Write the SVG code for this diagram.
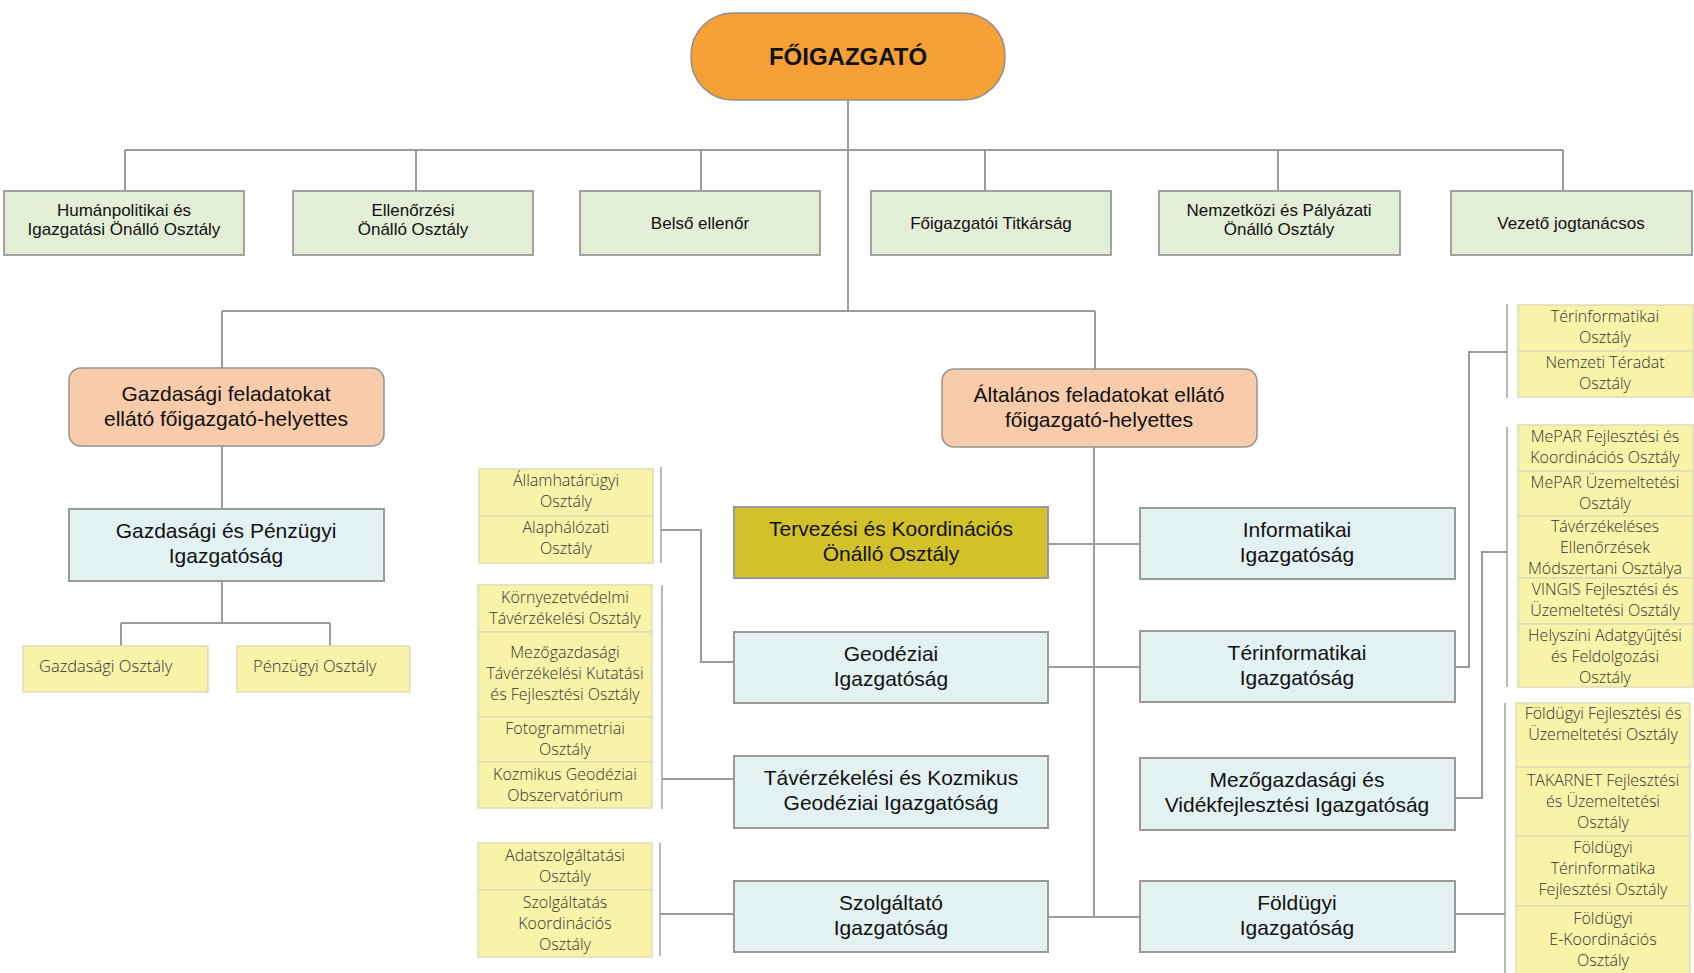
<svg xmlns="http://www.w3.org/2000/svg" width="1694" height="973" viewBox="0 0 1694 973">
<style>
  .ln { fill: none; stroke: #9b9b9b; stroke-width: 2; }
  .br { fill: none; stroke: #a8a8a8; stroke-width: 1.6; }
  .top { fill: #f5a037; stroke: #8e8e8e; stroke-width: 1.5; }
  .grn { fill: #e2eed6; stroke: #9a9a9a; stroke-width: 1.8; }
  .dep { fill: #f8cbaa; stroke: #929292; stroke-width: 1.5; }
  .blu { fill: #e3f1f1; stroke: #9a9a9a; stroke-width: 2; }
  .gld { fill: #d3c12b; stroke: #9a9a9a; stroke-width: 2; }
  .yel { fill: #f9f3a9; stroke: #dedbb8; stroke-width: 1.5; }
  .tt { font-family: "Liberation Sans", Arial, sans-serif; font-weight: bold; font-size: 24px; fill: #111; text-anchor: middle; }
  .t1 { font-family: "Liberation Sans", Arial, sans-serif; font-size: 17px; fill: #111; text-anchor: middle; }
  .t2 { font-family: "Liberation Sans", Arial, sans-serif; font-size: 21px; fill: #111; text-anchor: middle; }
  .ty { font-family: "Open Sans", "Noto Sans", sans-serif; font-size: 16px; font-weight: 300; fill: #333; text-anchor: middle; }
  .tyl { font-family: "Open Sans", "Noto Sans", sans-serif; font-size: 16.5px; font-weight: 300; fill: #333; }
</style>

<!-- connectors -->
<g id="connectors">
  <path class="ln" d="M848,100 V311"/>
  <path class="ln" d="M125,150 H1563"/>
  <path class="ln" d="M125,150 V191 M416,150 V191 M701,150 V191 M985,150 V191 M1278,150 V191 M1563,150 V191"/>
  <path class="ln" d="M222,311 H1095 M222,311 V368 M1095,311 V369"/>
  <path class="ln" d="M222,446 V509 M222,581 V623 M121,623 H330 M121,623 V646 M330,623 V646"/>
  <path class="ln" d="M1094,447 V917"/>
  <path class="ln" d="M1048,544 H1140 M1048,667 H1140 M1048,917 H1140"/>
  <path class="br" d="M661,467 V563 M662,585 V809 M660,843 V956"/>
  <path class="ln" d="M661,530 H701 V662 H734 M662,779 H734 M660,914 H734"/>
  <path class="br" d="M1507,304 V398 M1507,427 V687 M1505,703 V973"/>
  <path class="ln" d="M1455,667 H1469 V352 H1507 M1455,798 H1482 V552 H1507 M1455,914 H1505"/>
</g>

<!-- director -->
<g id="foigazgato">
  <rect class="top" x="691" y="13" width="314" height="87" rx="42" ry="42"/>
  <text class="tt" x="848" y="65">FŐIGAZGATÓ</text>
</g>

<!-- directly reporting units -->
<g id="humanpolitikai">
  <rect class="grn" x="4" y="191" width="240" height="64"/>
  <text class="t1" x="124" y="216">Humánpolitikai és</text>
  <text class="t1" x="124" y="235">Igazgatási Önálló Osztály</text>
</g>
<g id="ellenorzesi">
  <rect class="grn" x="293" y="191" width="240" height="64"/>
  <text class="t1" x="413" y="216">Ellenőrzési</text>
  <text class="t1" x="413" y="235">Önálló Osztály</text>
</g>
<g id="belso-ellenor">
  <rect class="grn" x="580" y="191" width="240" height="64"/>
  <text class="t1" x="700" y="229">Belső ellenőr</text>
</g>
<g id="titkarsag">
  <rect class="grn" x="871" y="191" width="240" height="64"/>
  <text class="t1" x="991" y="229">Főigazgatói Titkárság</text>
</g>
<g id="nemzetkozi">
  <rect class="grn" x="1159" y="191" width="241" height="64"/>
  <text class="t1" x="1279" y="216">Nemzetközi és Pályázati</text>
  <text class="t1" x="1279" y="235">Önálló Osztály</text>
</g>
<g id="jogtanacsos">
  <rect class="grn" x="1451" y="191" width="241" height="64"/>
  <text class="t1" x="1571" y="229">Vezető jogtanácsos</text>
</g>

<!-- deputies -->
<g id="gazdasagi-helyettes">
  <rect class="dep" x="69" y="368" width="315" height="78" rx="12" ry="12"/>
  <text class="t2" x="226" y="401">Gazdasági feladatokat</text>
  <text class="t2" x="226" y="426">ellátó főigazgató-helyettes</text>
</g>
<g id="altalanos-helyettes">
  <rect class="dep" x="942" y="369" width="315" height="78" rx="12" ry="12"/>
  <text class="t2" x="1099" y="402">Általános feladatokat ellátó</text>
  <text class="t2" x="1099" y="427">főigazgató-helyettes</text>
</g>

<!-- economic branch -->
<g id="gazdasagi-penzugyi">
  <rect class="blu" x="69" y="509" width="315" height="72"/>
  <text class="t2" x="226" y="538">Gazdasági és Pénzügyi</text>
  <text class="t2" x="226" y="563">Igazgatóság</text>
</g>
<g id="gazdasagi-osztaly">
  <rect class="yel" x="23" y="646" width="185" height="46"/>
  <text class="tyl" x="39" y="672">Gazdasági Osztály</text>
</g>
<g id="penzugyi-osztaly">
  <rect class="yel" x="237" y="646" width="173" height="46"/>
  <text class="tyl" x="253" y="672">Pénzügyi Osztály</text>
</g>

<!-- middle column -->
<g id="tervezesi">
  <rect class="gld" x="734" y="507" width="314" height="71"/>
  <text class="t2" x="891" y="536">Tervezési és Koordinációs</text>
  <text class="t2" x="891" y="561">Önálló Osztály</text>
</g>
<g id="geodeziai">
  <rect class="blu" x="734" y="632" width="314" height="71"/>
  <text class="t2" x="891" y="661">Geodéziai</text>
  <text class="t2" x="891" y="686">Igazgatóság</text>
</g>
<g id="taverzekelesi">
  <rect class="blu" x="734" y="756" width="314" height="72"/>
  <text class="t2" x="891" y="785">Távérzékelési és Kozmikus</text>
  <text class="t2" x="891" y="810">Geodéziai Igazgatóság</text>
</g>
<g id="szolgaltato">
  <rect class="blu" x="734" y="881" width="314" height="71"/>
  <text class="t2" x="891" y="910">Szolgáltató</text>
  <text class="t2" x="891" y="935">Igazgatóság</text>
</g>

<!-- right column -->
<g id="informatikai">
  <rect class="blu" x="1140" y="508" width="315" height="71"/>
  <text class="t2" x="1297" y="537">Informatikai</text>
  <text class="t2" x="1297" y="562">Igazgatóság</text>
</g>
<g id="terinformatikai">
  <rect class="blu" x="1140" y="631" width="315" height="71"/>
  <text class="t2" x="1297" y="660">Térinformatikai</text>
  <text class="t2" x="1297" y="685">Igazgatóság</text>
</g>
<g id="mezogazdasagi">
  <rect class="blu" x="1140" y="758" width="315" height="72"/>
  <text class="t2" x="1297" y="787">Mezőgazdasági és</text>
  <text class="t2" x="1297" y="812">Vidékfejlesztési Igazgatóság</text>
</g>
<g id="foldugyi">
  <rect class="blu" x="1140" y="881" width="315" height="71"/>
  <text class="t2" x="1297" y="910">Földügyi</text>
  <text class="t2" x="1297" y="935">Igazgatóság</text>
</g>

<!-- departments of the Geodéziai Igazgatóság -->
<g id="geodeziai-osztalyok">
  <rect class="yel" x="479" y="469" width="174" height="47"/>
  <rect class="yel" x="479" y="516" width="174" height="47"/>
  <text class="ty" x="566" y="486">Államhatárügyi</text>
  <text class="ty" x="566" y="507">Osztály</text>
  <text class="ty" x="566" y="533">Alaphálózati</text>
  <text class="ty" x="566" y="554">Osztály</text>
</g>

<!-- departments of the Távérzékelési és Kozmikus Geodéziai Igazgatóság -->
<g id="taverzekelesi-osztalyok">
  <rect class="yel" x="478" y="585" width="174" height="47"/>
  <rect class="yel" x="478" y="632" width="174" height="85"/>
  <rect class="yel" x="478" y="717" width="174" height="45"/>
  <rect class="yel" x="478" y="762" width="174" height="46"/>
  <text class="ty" x="565" y="603">Környezetvédelmi</text>
  <text class="ty" x="565" y="624">Távérzékelési Osztály</text>
  <text class="ty" x="565" y="658">Mezőgazdasági</text>
  <text class="ty" x="565" y="679">Távérzékelési Kutatási</text>
  <text class="ty" x="565" y="700">és Fejlesztési Osztály</text>
  <text class="ty" x="565" y="734">Fotogrammetriai</text>
  <text class="ty" x="565" y="755">Osztály</text>
  <text class="ty" x="565" y="780">Kozmikus Geodéziai</text>
  <text class="ty" x="565" y="801">Obszervatórium</text>
</g>

<!-- departments of the Szolgáltató Igazgatóság -->
<g id="szolgaltato-osztalyok">
  <rect class="yel" x="478" y="843" width="174" height="47"/>
  <rect class="yel" x="478" y="890" width="174" height="67"/>
  <text class="ty" x="565" y="861">Adatszolgáltatási</text>
  <text class="ty" x="565" y="882">Osztály</text>
  <text class="ty" x="565" y="908">Szolgáltatás</text>
  <text class="ty" x="565" y="929">Koordinációs</text>
  <text class="ty" x="565" y="950">Osztály</text>
</g>

<!-- departments of the Térinformatikai Igazgatóság -->
<g id="terinformatikai-osztalyok">
  <rect class="yel" x="1518" y="305" width="175" height="46"/>
  <rect class="yel" x="1518" y="351" width="175" height="46"/>
  <text class="ty" x="1605" y="322">Térinformatikai</text>
  <text class="ty" x="1605" y="343">Osztály</text>
  <text class="ty" x="1605" y="368">Nemzeti Téradat</text>
  <text class="ty" x="1605" y="389">Osztály</text>
</g>

<!-- departments of the Mezőgazdasági és Vidékfejlesztési Igazgatóság -->
<g id="mezogazdasagi-osztalyok">
  <rect class="yel" x="1518" y="425" width="175" height="46"/>
  <rect class="yel" x="1518" y="471" width="175" height="45"/>
  <rect class="yel" x="1518" y="516" width="175" height="62"/>
  <rect class="yel" x="1518" y="578" width="175" height="46"/>
  <rect class="yel" x="1518" y="624" width="175" height="63"/>
  <text class="ty" x="1605" y="442">MePAR Fejlesztési és</text>
  <text class="ty" x="1605" y="463">Koordinációs Osztály</text>
  <text class="ty" x="1605" y="488">MePAR Üzemeltetési</text>
  <text class="ty" x="1605" y="509">Osztály</text>
  <text class="ty" x="1605" y="532">Távérzékeléses</text>
  <text class="ty" x="1605" y="553">Ellenőrzések</text>
  <text class="ty" x="1605" y="574">Módszertani Osztálya</text>
  <text class="ty" x="1605" y="595">VINGIS Fejlesztési és</text>
  <text class="ty" x="1605" y="616">Üzemeltetési Osztály</text>
  <text class="ty" x="1605" y="641">Helyszíni Adatgyűjtési</text>
  <text class="ty" x="1605" y="662">és Feldolgozási</text>
  <text class="ty" x="1605" y="683">Osztály</text>
</g>

<!-- departments of the Földügyi Igazgatóság -->
<g id="foldugyi-osztalyok">
  <rect class="yel" x="1516" y="703" width="174" height="64"/>
  <rect class="yel" x="1516" y="767" width="174" height="69"/>
  <rect class="yel" x="1516" y="836" width="174" height="70"/>
  <rect class="yel" x="1516" y="906" width="174" height="70"/>
  <text class="ty" x="1603" y="719">Földügyi Fejlesztési és</text>
  <text class="ty" x="1603" y="740">Üzemeltetési Osztály</text>
  <text class="ty" x="1603" y="786">TAKARNET Fejlesztési</text>
  <text class="ty" x="1603" y="807">és Üzemeltetési</text>
  <text class="ty" x="1603" y="828">Osztály</text>
  <text class="ty" x="1603" y="853">Földügyi</text>
  <text class="ty" x="1603" y="874">Térinformatika</text>
  <text class="ty" x="1603" y="895">Fejlesztési Osztály</text>
  <text class="ty" x="1603" y="924">Földügyi</text>
  <text class="ty" x="1603" y="945">E-Koordinációs</text>
  <text class="ty" x="1603" y="966">Osztály</text>
</g>
</svg>
